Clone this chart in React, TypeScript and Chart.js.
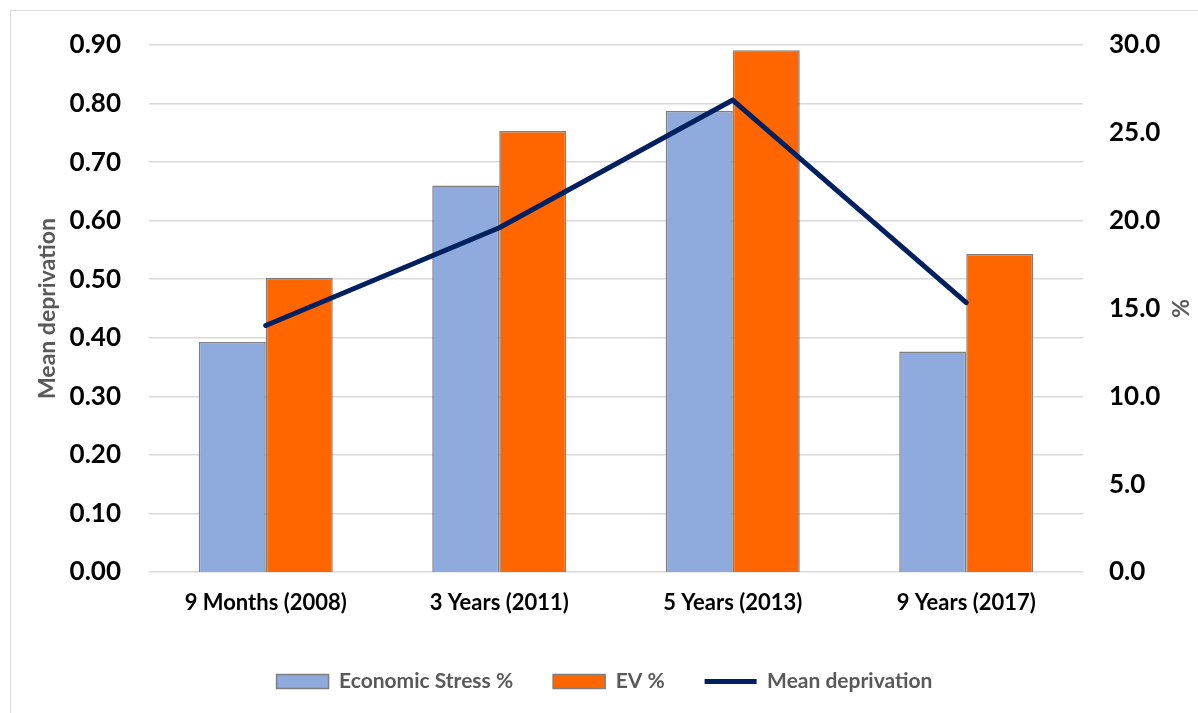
import React, { useEffect, useRef } from "react";
import { Chart, registerables } from "chart.js";

Chart.register(...registerables);

const categories = ["9 Months (2008)", "3 Years (2011)", "5 Years (2013)", "9 Years (2017)"];
const economicStress = [13.1, 22.0, 26.25, 12.55];
const ev = [16.75, 25.1, 29.7, 18.1];
const meanDeprivation = [0.421, 0.588, 0.806, 0.46];
const leftTicks = { min: 0, max: 0.9, step: 0.1 };
const rightTicks = { min: 0, max: 30, step: 5 };

const FONT = "Lato, 'Open Sans', sans-serif";

export default function App() {
  const ref = useRef<HTMLCanvasElement | null>(null);

  useEffect(() => {
    if (!ref.current) return;
    const chart = new Chart(ref.current, {
      type: "bar",
      data: {
        labels: categories,
        datasets: [
          {
            type: "bar",
            label: "Economic Stress %",
            data: economicStress,
            yAxisID: "y1",
            backgroundColor: "#8FAADC",
            borderColor: "#7F7F7F",
            borderWidth: 1.5,
            categoryPercentage: 0.574,
            barPercentage: 1.0,
            order: 1,
            pointStyle: "rect",
          } as any,
          {
            type: "bar",
            label: "EV %",
            data: ev,
            yAxisID: "y1",
            backgroundColor: "#FF6600",
            borderColor: "#7F7F7F",
            borderWidth: 1.5,
            categoryPercentage: 0.574,
            barPercentage: 1.0,
            order: 1,
            pointStyle: "rect",
          } as any,
          {
            type: "line",
            label: "Mean deprivation",
            data: meanDeprivation,
            yAxisID: "y",
            borderColor: "#002060",
            backgroundColor: "#002060",
            borderWidth: 5,
            borderCapStyle: "round",
            borderJoinStyle: "round",
            pointRadius: 0,
            tension: 0,
            order: 0,
            pointStyle: "line",
          } as any,
        ],
      },
      options: {
        responsive: false,
        animation: false,
        layout: { padding: { top: 34, bottom: 11, left: 0, right: 0 } },
        plugins: {
          tooltip: { enabled: false },
          legend: {
            position: "bottom",
            labels: {
              usePointStyle: true,
              pointStyleWidth: 52,
              boxHeight: 14,
              padding: 40,
              color: "#595959",
              font: { family: FONT, size: 21, weight: "bold" },
              sort: (a: any, b: any) => a.datasetIndex - b.datasetIndex,
            },
          },
        },
        scales: {
          x: {
            grid: { display: false, drawTicks: false },
            border: { display: false },
            ticks: {
              color: "#000000",
              font: { family: FONT, size: 22, weight: "bold" },
              padding: 18,
              maxRotation: 0,
              autoSkip: false,
            },
            afterFit: (s: any) => {
              s.height = 59;
            },
          },
          y: {
            position: "left",
            min: leftTicks.min,
            max: leftTicks.max,
            ticks: {
              stepSize: leftTicks.step,
              callback: (v: any) => Number(v).toFixed(2),
              color: "#000000",
              font: { family: FONT, size: 26, weight: "bold" },
              padding: 28,
            },
            grid: { color: "#D9D9D9", lineWidth: 1.5, drawTicks: false },
            border: { display: false },
            title: {
              display: true,
              text: "Mean deprivation",
              color: "#595959",
              font: { family: FONT, size: 23, weight: "bold" },
              padding: { top: 23, bottom: 0 },
            },
            afterFit: (s: any) => {
              s.width = 138;
              s.paddingTop = 0;
              s.paddingBottom = 0;
            },
          },
          y1: {
            position: "right",
            min: rightTicks.min,
            max: rightTicks.max,
            ticks: {
              stepSize: rightTicks.step,
              callback: (v: any) => Number(v).toFixed(1),
              color: "#000000",
              font: { family: FONT, size: 26, weight: "bold" },
              padding: 26,
            },
            grid: { display: false, drawTicks: false },
            border: { display: false },
            title: {
              display: true,
              text: "%",
              color: "#595959",
              font: { family: FONT, size: 23, weight: "bold" },
              padding: { top: 5, bottom: 0 },
            },
            afterFit: (s: any) => {
              s.width = 115;
              s.paddingTop = 0;
              s.paddingBottom = 0;
            },
          },
        },
      },
    });
    return () => chart.destroy();
  }, []);

  return (
    <div
      style={{
        position: "fixed",
        left: 10,
        top: 10,
        width: 1188,
        height: 703,
        borderTop: "1px solid #D9D9D9",
        borderLeft: "1px solid #D9D9D9",
        background: "#FFFFFF",
      }}
    >
      <canvas ref={ref} width={1187} height={702} style={{ display: "block" }} />
    </div>
  );
}
